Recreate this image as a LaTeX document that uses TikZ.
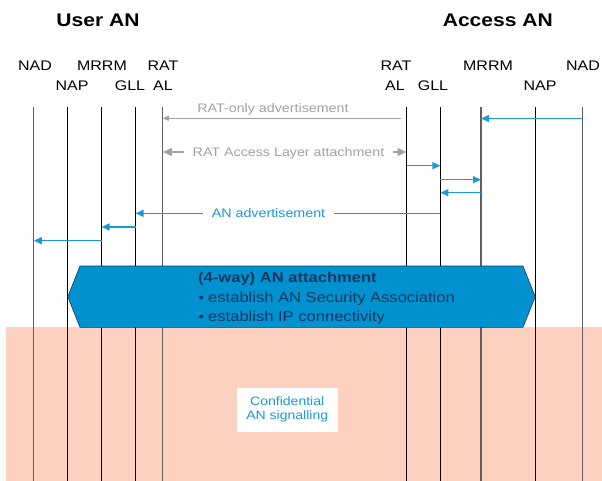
\documentclass[tikz,border=0pt]{standalone}
\usepackage{fontspec}
\setmainfont[FakeStretch=1.15]{Liberation Sans}
\usetikzlibrary{arrows.meta}

\definecolor{msgblue}{RGB}{27,154,214}
\definecolor{hexblue}{RGB}{0,146,208}
\definecolor{hextext}{RGB}{23,55,94}
\definecolor{ratgray}{RGB}{166,160,158}
\definecolor{pinkbg}{RGB}{253,208,192}
\definecolor{lifegray}{RGB}{95,95,95}

% horizontal message between two lifelines at height #4
\newcommand\msgline[4][]{\draw[#1] (#2 |- 0,#4) -- (#3 |- 0,#4);}

\begin{document}
\begin{tikzpicture}[x=1pt,y=-1pt,
  hdr/.style={font=\fontsize{18.3}{20}\selectfont\bfseries, anchor=base, inner sep=0pt},
  lbl/.style={font=\fontsize{13.9}{16}\selectfont, anchor=base, inner sep=0pt},
  msglbl/.style={font=\fontsize{12.4}{14}\selectfont, inner sep=0pt},
  hexlbl/.style={font=\fontsize{14.4}{16}\selectfont, text=hextext, anchor=base west, inner sep=0pt},
  life/.style={line width=1.1pt, black},
  lifeg/.style={line width=1.3pt, lifegray},
  bluemsg/.style={draw=msgblue, line width=1.4pt, -{Triangle[length=8pt,width=7pt]}},
  blueline/.style={draw=msgblue, line width=1.4pt},
  graythin/.style={draw=ratgray, line width=1.2pt, -{Triangle[length=6pt,width=5pt]}},
  grayfat/.style={draw=ratgray, line width=2.5pt, -{Triangle[length=9pt,width=7.5pt]}},
]
\useasboundingbox (0,0) rectangle (602,481);

% confidential zone
\fill[pinkbg] (6,326.7) rectangle (602,481);

% headers
\node[hdr] (userAN) at (98,26.7) {User AN};
\node[hdr] (accessAN) at (497.8,26.7) {Access AN};

% lifeline labels, user side
\node[lbl] (uNADl) at (35,71) {NAD};
\node[lbl] (uMRRMl) at (102,71) {MRRM};
\node[lbl] (uRATl) at (163,71) {RAT};
\node[lbl] (uNAPl) at (72,90.7) {NAP};
\node[lbl] (uGLLl) at (130,90.7) {GLL};
\node[lbl] (uALl) at (163,90.7) {AL};
% lifeline labels, access side
\node[lbl] (rRATl) at (396,71) {RAT};
\node[lbl] (rMRRMl) at (488,71) {MRRM};
\node[lbl] (rNADl) at (583,71) {NAD};
\node[lbl] (rALl) at (395,90.7) {AL};
\node[lbl] (rGLLl) at (433,90.7) {GLL};
\node[lbl] (rNAPl) at (540,90.7) {NAP};

% lifeline tops
\coordinate (uNAD) at (33.8,107);
\coordinate (uNAP) at (67.6,107);
\coordinate (uMRRM) at (101.5,107);
\coordinate (uGLL) at (135.6,107);
\coordinate (uAL) at (162.8,107);
\coordinate (rAL) at (406.6,107);
\coordinate (rGLL) at (440.4,107);
\coordinate (rMRRM) at (481,107);
\coordinate (rNAP) at (535.4,107);
\coordinate (rNAD) at (582.8,107);

% lifelines
\foreach \p in {uNAP,uMRRM,uGLL,rAL,rGLL,rNAP}
  \draw[life] (\p) -- (\p |- 0,481);
\foreach \p in {uNAD,uAL,rMRRM,rNAD}
  \draw[lifeg] (\p) -- (\p |- 0,481);

% RAT-only advertisement
\node[msglbl, text=ratgray, anchor=base] (ratonly) at (273,113) {RAT-only advertisement};
\msgline[graythin, shorten <=6pt]{rAL}{uAL}{118.3}

% RAT access layer attachment
\node[msglbl, text=ratgray, anchor=base, fill=white, inner xsep=9pt] (ralatt) at (288.5,156.5) {RAT Access Layer attachment};
\draw[grayfat] (ralatt.west |- 0,152) -- (uAL |- 0,152);
\draw[grayfat] (ralatt.east |- 0,152) -- (rAL |- 0,152);

% blue messages on the access side
\msgline[bluemsg]{rNAD}{rMRRM}{118.5}
\msgline[bluemsg]{rAL}{rGLL}{165.7}
\msgline[bluemsg]{rGLL}{rMRRM}{179.7}
\msgline[bluemsg]{rMRRM}{rGLL}{192.7}

% AN advertisement
\node[msglbl, text=msgblue, fill=white, inner xsep=9pt, inner ysep=1pt] (anadv) at (268.5,213.3) {AN advertisement};
\draw[blueline] (rGLL |- 0,213.3) -- (anadv.east);
\draw[bluemsg] (anadv.west) -- (uGLL |- 0,213.3);

% blue messages on the user side
\msgline[bluemsg]{uGLL}{uMRRM}{227}
\msgline[bluemsg]{uMRRM}{uNAD}{240.7}

% (4-way) AN attachment
\draw[fill=hexblue, draw=hextext, line width=0.6pt]
  (67.8,296.7) -- (80,266) -- (523,266) -- (535.2,296.7) -- (523,327.3) -- (80,327.3) -- cycle;
\node[hexlbl, font=\fontsize{14.4}{16}\selectfont\bfseries] (hexhead) at (198,282.7) {(4-way) AN attachment};
\node[hexlbl, font=\fontsize{13.5}{14}\selectfont] (bul1) at (198.5,302) {•};
\node[hexlbl] (hexsa) at (208,302.7) {establish AN Security Association};
\node[hexlbl, font=\fontsize{13.5}{14}\selectfont] (bul2) at (198.5,321) {•};
\node[hexlbl] (hexip) at (208,321.7) {establish IP connectivity};

% confidential signalling note
\node[fill=white, minimum width=101pt, minimum height=44pt, inner sep=0pt, align=center,
      text=msgblue, font=\fontsize{12.2}{14}\selectfont] (conf) at (287.2,409.7)
      {Confidential\\AN signalling};
\end{tikzpicture}
\end{document}
